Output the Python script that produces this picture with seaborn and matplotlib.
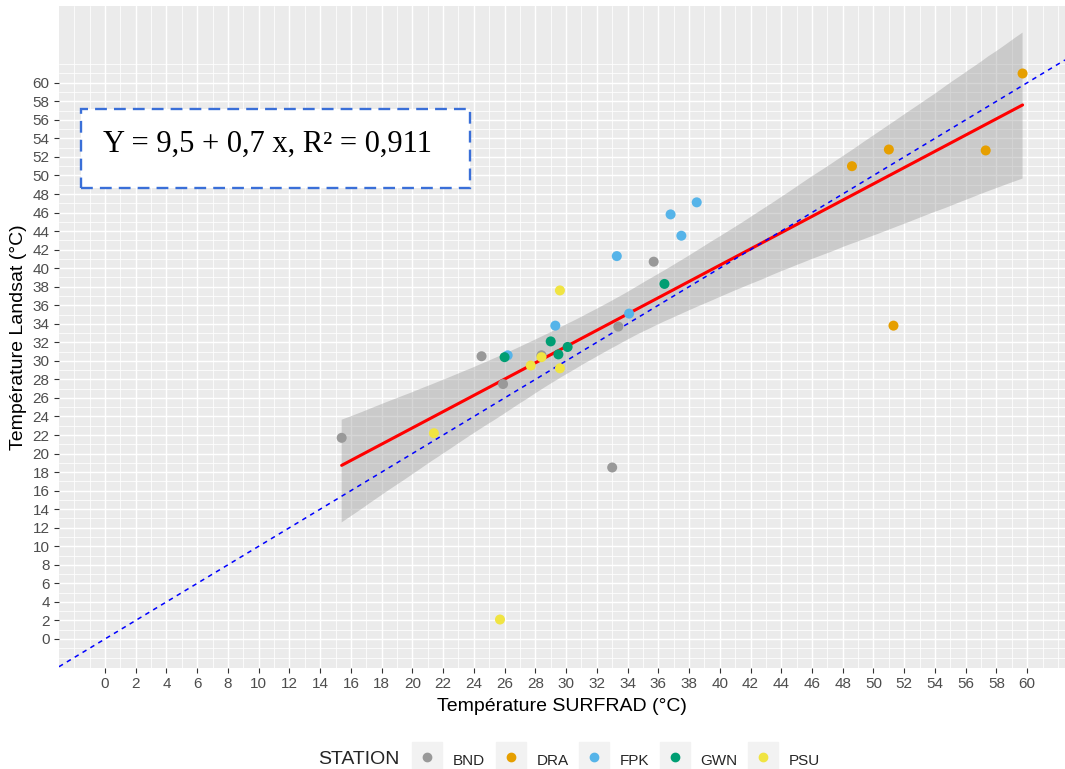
import numpy as np
import pandas as pd
import matplotlib
matplotlib.use("Agg")
import matplotlib.pyplot as plt
import seaborn as sns
from matplotlib.lines import Line2D
from matplotlib.patches import Rectangle
from matplotlib.legend_handler import HandlerTuple

# ---------------- data ----------------
stations = ["BND", "DRA", "FPK", "GWN", "PSU"]
colors = ["#999999", "#E69F00", "#56B4E9", "#009E73", "#F0E442"]

bnd_x = [15.4, 24.5, 25.9, 28.4, 33.0, 33.4, 35.7]
bnd_y = [21.7, 30.5, 27.5, 30.6, 18.5, 33.7, 40.7]
dra_x = [48.6, 51.0, 51.3, 57.3, 59.7]
dra_y = [51.0, 52.8, 33.8, 52.7, 61.0]
fpk_x = [26.2, 29.3, 33.3, 34.1, 36.8, 37.5, 38.5]
fpk_y = [30.6, 33.8, 41.3, 35.1, 45.8, 43.5, 47.1]
gwn_x = [26.0, 29.0, 29.5, 30.1, 36.4]
gwn_y = [30.4, 32.1, 30.7, 31.5, 38.3]
psu_x = [21.4, 25.7, 27.7, 28.4, 29.6, 29.6]
psu_y = [22.2, 2.1, 29.5, 30.4, 37.6, 29.2]

xticks = list(range(0, 61, 2))
yticks = list(range(0, 61, 2))
x_label = "Température SURFRAD (°C)"
y_label = "Température Landsat (°C)"
eq_text = "Y = 9,5 + 0,7 x, R² = 0,911"
legend_title = "STATION"

xs = [bnd_x, dra_x, fpk_x, gwn_x, psu_x]
ys = [bnd_y, dra_y, fpk_y, gwn_y, psu_y]
df = pd.DataFrame({
    "SURFRAD": sum(xs, []),
    "Landsat": sum(ys, []),
    "STATION": sum([[s] * len(x) for s, x in zip(stations, xs)], []),
})

# ---------------- figure ----------------
sns.set_theme(style="darkgrid")
plt.rcParams["font.family"] = ["Liberation Sans", "DejaVu Sans"]

W, H = 1065, 769
fig = plt.figure(figsize=(W / 100, H / 100), dpi=100)
ax = fig.add_axes([59 / W, 1 - 668 / H, (W - 59) / W, (668 - 6) / H])
ax.set_facecolor("#EBEBEB")

xlim = (-2.99, 62.46)
ylim = (-3.13, 68.28)

# grid (minor every 1, major every 2)
for v in np.arange(-2, 63, 1):
    ax.axvline(v, color="white", lw=0.55, zorder=0)
    ax.axhline(v, color="white", lw=0.55, zorder=0)
for v in xticks:
    ax.axvline(v, color="white", lw=1.05, zorder=0)
for v in yticks:
    ax.axhline(v, color="white", lw=1.05, zorder=0)
ax.grid(False)

sns.regplot(data=df, x="SURFRAD", y="Landsat", ax=ax, scatter=False, ci=95,
            n_boot=10000, seed=3,
            line_kws=dict(color="red", lw=2.2, zorder=3),
            color="#999999")
for coll in ax.collections:
    coll.set_alpha(0.4)
    coll.set_facecolor("#999999")
    coll.set_edgecolor("none")
    coll.set_zorder(2)

ax.axline((0, 0), slope=1, color="blue", lw=1.1, ls=(0, (3, 3)), zorder=4)

sns.scatterplot(data=df, x="SURFRAD", y="Landsat", hue="STATION",
                hue_order=stations, palette=dict(zip(stations, colors)),
                s=52, linewidth=0, ax=ax, legend=False, zorder=5)

ax.set_xlim(*xlim)
ax.set_ylim(*ylim)
ax.set_xticks(xticks)
ax.set_yticks(yticks)
ax.tick_params(axis="both", which="major", length=3.5, width=0.8, color="#333333",
               labelsize=11, labelcolor="#4D4D4D", pad=3.2, direction="out",
               bottom=True, left=True)
for sp in ax.spines.values():
    sp.set_visible(False)
ax.set_xlabel(x_label, fontsize=14, color="black", labelpad=5)
ax.set_ylabel(y_label, fontsize=14, color="black", labelpad=4)

# equation box
rect = Rectangle((-1.56, 48.6), 25.3, 8.6, facecolor="white", edgecolor="#3A6FD8",
                 lw=1.7, ls=(0, (5, 3)), zorder=6)
ax.add_patch(rect)
ax.text(-0.15, 52.5, eq_text, fontsize=22, family="Liberation Serif",
        ha="left", va="baseline", zorder=7, color="black")

# legend
handles = []
for c in colors:
    bg = Line2D([], [], marker="s", markersize=21.5, color="#F2F2F2", linestyle="")
    dot = Line2D([], [], marker="o", markersize=6, color=c, linestyle="")
    handles.append((bg, dot))
fig.legend(handles, stations, handler_map={tuple: HandlerTuple(ndivide=1)},
           loc="center left", bbox_to_anchor=(412 / W, 1 - 760 / H),
           ncol=5, frameon=False, fontsize=11, handlelength=2.0, handleheight=2.0,
           handletextpad=0.7, columnspacing=0.65, borderaxespad=0, borderpad=0)
fig.text(318 / W, 1 - 760 / H, legend_title, fontsize=14, ha="left", va="center")

fig.savefig("out.png", dpi=100, facecolor="white")
